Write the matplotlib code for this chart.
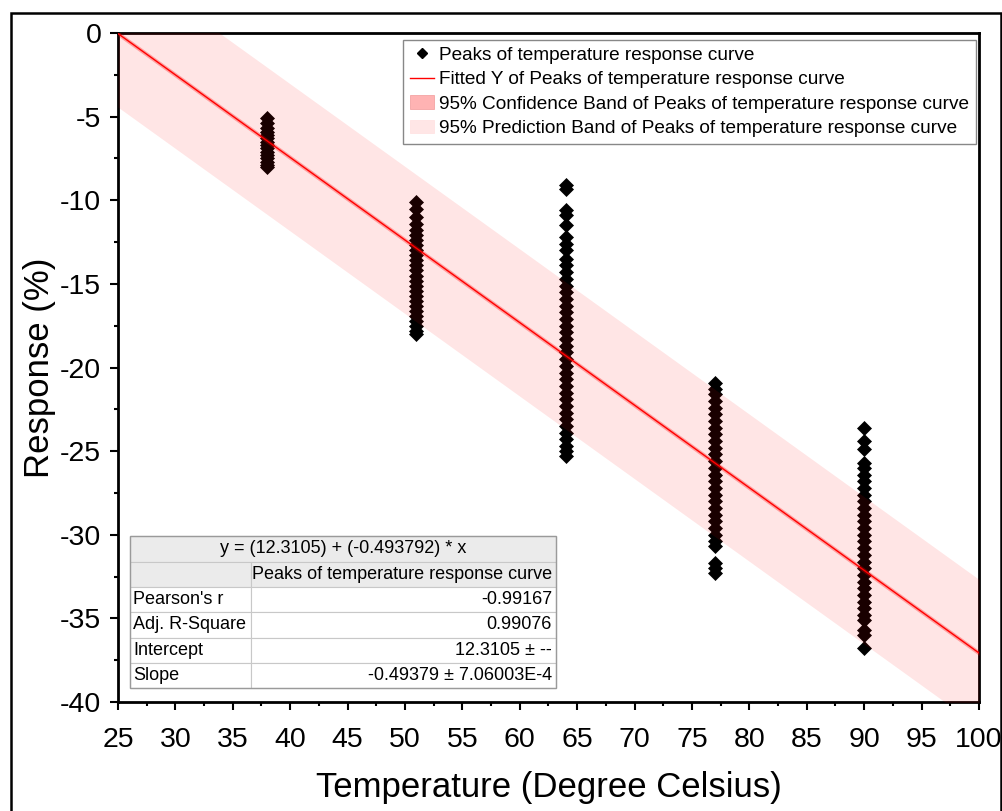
import matplotlib
matplotlib.use('Agg')
import matplotlib.pyplot as plt
from matplotlib.patches import Rectangle, Patch
from matplotlib.lines import Line2D
from matplotlib.ticker import MultipleLocator

plt.rcParams['font.family'] = ['Liberation Sans', 'DejaVu Sans']
plt.rcParams['axes.unicode_minus'] = False

# temperatures (degree C) at which the peaks were recorded
temps = [38, 51, 64, 77, 90]

# peak responses (%)
resp_38 = [-5.1, -5.4, -5.7, -5.9, -6.1, -6.3, -6.5, -6.7, -6.9, -7.1, -7.3,
           -7.5, -7.7, -7.9, -8.0]
resp_51 = [-10.1, -10.5, -11.0, -11.4, -11.8, -12.1, -12.4, -12.7, -13.0,
           -13.3, -13.6, -13.9, -14.2, -14.5, -14.8, -15.1, -15.4, -15.7,
           -16.0, -16.3, -16.6, -16.9, -17.2, -17.5, -17.8, -18.0]
resp_64 = [-9.1, -9.3, -10.6, -10.9, -11.5, -12.2, -12.6, -13.0, -13.5, -13.9,
           -14.3, -14.7, -15.1, -15.5, -15.9, -16.3, -16.7, -17.1, -17.5,
           -17.9, -18.3, -18.7, -19.1, -19.5, -19.9, -20.3, -20.7, -21.1,
           -21.5, -21.9, -22.3, -22.7, -23.1, -23.5, -23.9, -24.3, -24.7,
           -25.0, -25.3]
resp_77 = [-20.9, -21.3, -21.6, -22.0, -22.4, -22.8, -23.2, -23.6, -24.0,
           -24.4, -24.8, -25.2, -25.6, -26.0, -26.4, -26.8, -27.2, -27.6,
           -28.0, -28.4, -28.8, -29.2, -29.6, -30.0, -30.4, -30.7, -31.7,
           -32.0, -32.3]
resp_90 = [-23.6, -24.4, -24.9, -25.7, -26.0, -26.4, -26.8, -27.2, -27.6,
           -28.0, -28.4, -28.8, -29.2, -29.6, -30.0, -30.4, -30.8, -31.2,
           -31.6, -32.0, -32.4, -32.8, -33.2, -33.6, -34.0, -34.4, -34.8,
           -35.1, -35.7, -36.0, -36.8]
responses = [resp_38, resp_51, resp_64, resp_77, resp_90]

# linear fit results
intercept = 12.3105
slope = -0.493792
pred_half = 4.4    # half width of 95% prediction band
conf_half = 0.15   # half width of 95% confidence band
fit_x = [25, 100]

# stats table text
eq_text = "y = (12.3105) + (-0.493792) * x"
col_header = "Peaks of temperature response curve"
row_names = ["Pearson's r", "Adj. R-Square", "Intercept", "Slope"]
row_values = ["-0.99167", "0.99076", "12.3105 \u00b1 --", "-0.49379 \u00b1 7.06003E-4"]

W, H = 1003, 811
fig = plt.figure(figsize=(W / 100, H / 100), dpi=100)
ax = fig.add_axes([118 / W, (H - 702) / H, (979 - 118) / W, (702 - 33) / H])

# scatter first, bands drawn over it with transparency (gives the dark red tint)
for t, vals in zip(temps, responses):
    ax.plot([t] * len(vals), vals, linestyle='none', marker='D', ms=7.2,
            mfc='black', mec='black', mew=0.5, zorder=2)

fit_y = [intercept + slope * x for x in fit_x]
ax.fill_between(fit_x, [y - pred_half for y in fit_y], [y + pred_half for y in fit_y],
                color='red', alpha=0.1, lw=0, zorder=3)
ax.fill_between(fit_x, [y - conf_half for y in fit_y], [y + conf_half for y in fit_y],
                color='red', alpha=0.3, lw=0, zorder=3)
ax.plot(fit_x, fit_y, color='red', lw=1.0, zorder=4)

ax.set_xlim(25, 100)
ax.set_ylim(-40, 0)
ax.xaxis.set_major_locator(MultipleLocator(5))
ax.xaxis.set_minor_locator(MultipleLocator(2.5))
ax.yaxis.set_major_locator(MultipleLocator(5))
ax.yaxis.set_minor_locator(MultipleLocator(2.5))
ax.tick_params(which='major', direction='out', length=6, width=1.5, labelsize=20.5)
ax.tick_params(axis='x', which='major', pad=12)
ax.tick_params(axis='y', which='major', pad=6)
ax.tick_params(which='minor', direction='out', length=3, width=1.5)
for sp in ax.spines.values():
    sp.set_linewidth(2)

ax.set_xlabel('Temperature (Degree Celsius)', fontsize=25)
ax.set_ylabel('Response (%)', fontsize=25)
ax.xaxis.set_label_coords(0.5, -0.128)
ax.xaxis.label.set_va('center')
ax.yaxis.set_label_coords(-0.091, 0.5)
ax.yaxis.label.set_va('center')

# legend
handles = [
    Line2D([], [], linestyle='none', marker='D', ms=5, color='black'),
    Line2D([], [], color='red', lw=1),
    Patch(facecolor=(1, 0.7, 0.7), edgecolor=(0.95, 0.6, 0.6), lw=0.5),
    Patch(facecolor=(1, 0.9, 0.9), edgecolor=(1, 0.88, 0.88), lw=0.5),
]
labels = ['Peaks of temperature response curve',
          'Fitted Y of Peaks of temperature response curve',
          '95% Confidence Band of Peaks of temperature response curve',
          '95% Prediction Band of Peaks of temperature response curve']
leg = ax.legend(handles, labels, loc='upper left', bbox_to_anchor=(0.331, 0.99),
                fontsize=13.7, frameon=True, fancybox=False, edgecolor='#888888',
                framealpha=1, handlelength=1.3, handletextpad=0.25,
                labelspacing=0.38, borderpad=0.35, borderaxespad=0)
leg.get_frame().set_linewidth(1)
leg.set_zorder(10)

# stats table, drawn from pixel positions converted to axes coords
def ax_x(px):
    return (px - 118) / (979 - 118)

def ax_y(py):
    return (702 - py) / (702 - 33)

tab_left, tab_mid, tab_right = 130, 251, 556
row_edges = [536, 561.5, 587, 612, 637.5, 663, 688]
grid_col = '#c8c8c8'
head_bg = '#ebebeb'

def cell(x0, x1, y0, y1, fc):
    ax.add_patch(Rectangle((ax_x(x0), ax_y(y1)), ax_x(x1) - ax_x(x0),
                           ax_y(y0) - ax_y(y1), transform=ax.transAxes,
                           facecolor=fc, edgecolor=grid_col, lw=0.8,
                           zorder=11, clip_on=False))

cell(tab_left, tab_right, row_edges[0], row_edges[1], head_bg)
ax.text(ax_x((tab_left + tab_right) / 2), ax_y((row_edges[0] + row_edges[1]) / 2),
        eq_text, transform=ax.transAxes, ha='center', va='center',
        fontsize=13, zorder=12)
cell(tab_left, tab_mid, row_edges[1], row_edges[2], head_bg)
cell(tab_mid, tab_right, row_edges[1], row_edges[2], head_bg)
ax.text(ax_x(tab_right - 4), ax_y((row_edges[1] + row_edges[2]) / 2), col_header,
        transform=ax.transAxes, ha='right', va='center', fontsize=13, zorder=12)
for i, (name, val) in enumerate(zip(row_names, row_values)):
    y0, y1 = row_edges[i + 2], row_edges[i + 3]
    cell(tab_left, tab_mid, y0, y1, 'white')
    cell(tab_mid, tab_right, y0, y1, 'white')
    yc = ax_y((y0 + y1) / 2)
    ax.text(ax_x(tab_left + 3), yc, name, transform=ax.transAxes, ha='left',
            va='center', fontsize=13, zorder=12)
    ax.text(ax_x(tab_right - 4), yc, val, transform=ax.transAxes, ha='right',
            va='center', fontsize=13, zorder=12)
# outer table border
ax.add_patch(Rectangle((ax_x(tab_left), ax_y(row_edges[-1])),
                       ax_x(tab_right) - ax_x(tab_left),
                       ax_y(row_edges[0]) - ax_y(row_edges[-1]),
                       transform=ax.transAxes, fill=False, edgecolor='#9a9a9a',
                       lw=1, zorder=13, clip_on=False))

# frame around the whole graph page
fig.patches.append(Rectangle((11 / W, -0.05), (1001 - 11) / W, (H - 13) / H + 0.05,
                             transform=fig.transFigure, fill=False,
                             edgecolor='black', lw=1.8))

fig.savefig('out.png', dpi=100)
